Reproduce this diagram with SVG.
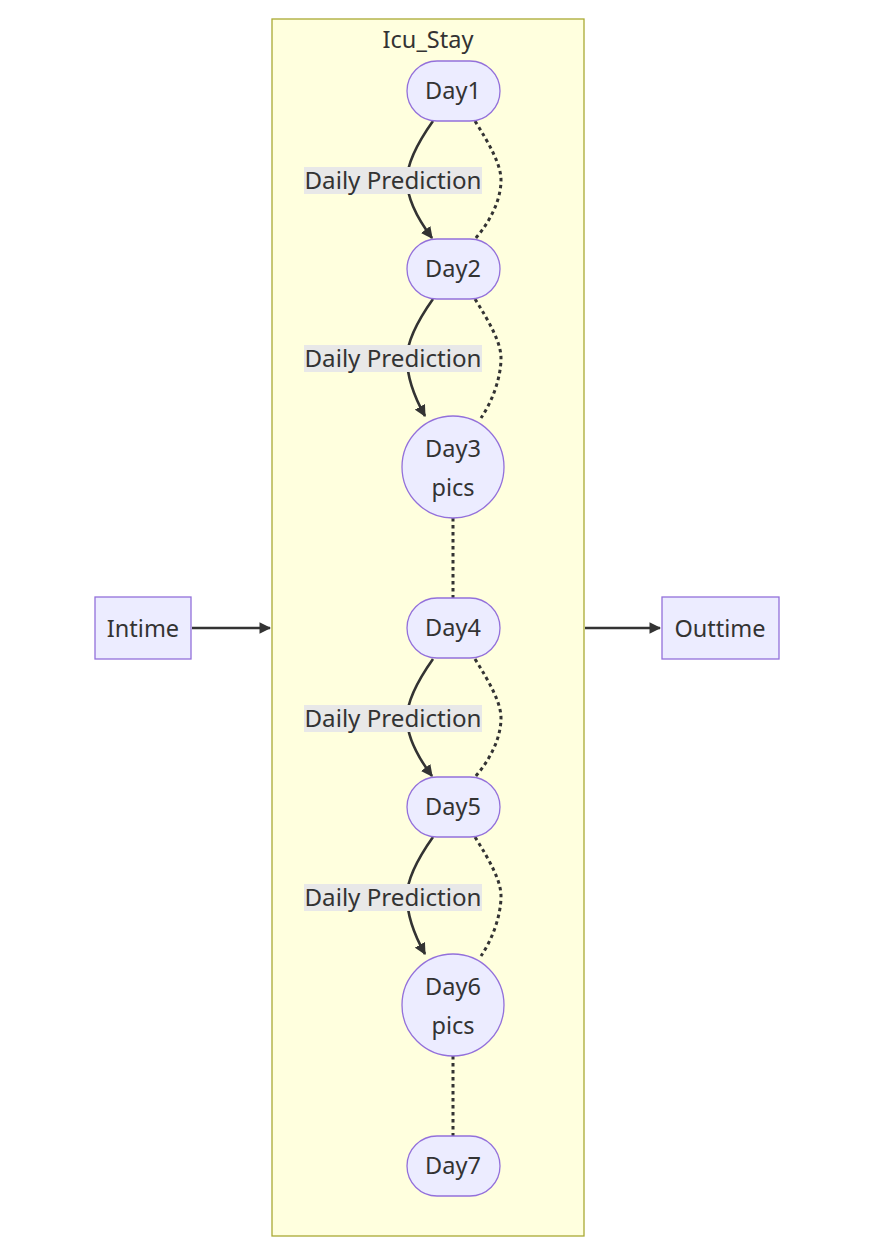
<svg xmlns="http://www.w3.org/2000/svg" width="877" height="1247" viewBox="0 0 877 1247">
<style>
text{font-family:"Noto Sans","DejaVu Sans",sans-serif;font-size:23.5px;fill:#333333;text-anchor:middle;dominant-baseline:central}
.node{fill:#ECECFF;stroke:#9370DB;stroke-width:1.3}
.edge{fill:none;stroke:#333333;stroke-width:2.6}
.dot{fill:none;stroke:#333333;stroke-width:3;stroke-dasharray:3.5 3.5}
.lbl{fill:#e8e8e8}
</style>
<defs>
<marker id="arr" viewBox="0 0 10 10" refX="9" refY="5" markerWidth="4.5" markerHeight="4.5" markerUnits="strokeWidth" orient="auto">
<path d="M0,0 L10,5 L0,10 z" fill="#333333"/>
</marker>
</defs>
<rect width="877" height="1247" fill="#ffffff"/>
<g id="cluster-Icu_Stay">
<rect x="272" y="19" width="312" height="1217" fill="#ffffde" stroke="#aaaa33" stroke-width="1.3"/>
<text x="428" y="39">Icu_Stay</text>
</g>
<g id="edges">
<path class="edge" d="M192,628 L270,628" marker-end="url(#arr)"/>
<path class="edge" d="M585,628 L660,628" marker-end="url(#arr)"/>
<path class="edge" d="M433,121 C416,145 407,165 407,180 C407,200 420,222 432,238" marker-end="url(#arr)"/>
<path class="dot" d="M475,121 C490,145 501,165 501,180 C501,200 490,222 475,239"/>
<path class="edge" d="M433,299 C416,323 407,343 407,358 C407,378 416,400 425,416" marker-end="url(#arr)"/>
<path class="dot" d="M475,299 C490,323 501,343 501,358 C501,378 492,402 481,418"/>
<path class="dot" d="M453,518 L453,598"/>
<path class="edge" d="M433,659 C416,683 407,703 407,718 C407,738 420,760 432,776" marker-end="url(#arr)"/>
<path class="dot" d="M475,659 C490,683 501,703 501,718 C501,738 490,760 475,777"/>
<path class="edge" d="M433,837 C416,861 407,881 407,896 C407,916 416,938 425,954" marker-end="url(#arr)"/>
<path class="dot" d="M475,837 C490,861 501,881 501,896 C501,916 492,940 481,956"/>
<path class="dot" d="M453,1056 L453,1136"/>
<g id="edge-labels">
<rect class="lbl" x="304" y="167" width="178" height="27"/><text x="393" y="180" textLength="177" lengthAdjust="spacingAndGlyphs">Daily Prediction</text>
<rect class="lbl" x="304" y="345" width="178" height="27"/><text x="393" y="358" textLength="177" lengthAdjust="spacingAndGlyphs">Daily Prediction</text>
<rect class="lbl" x="304" y="705" width="178" height="27"/><text x="393" y="718" textLength="177" lengthAdjust="spacingAndGlyphs">Daily Prediction</text>
<rect class="lbl" x="304" y="884" width="178" height="27"/><text x="393" y="897" textLength="177" lengthAdjust="spacingAndGlyphs">Daily Prediction</text>
</g>
</g>
<g id="Intime"><rect class="node" x="95" y="597" width="96" height="62"/><text x="143" y="628">Intime</text></g>
<g id="Outtime"><rect class="node" x="662" y="597" width="117" height="62"/><text x="720" y="628">Outtime</text></g>
<g id="Day1"><rect class="node" x="407" y="61" width="93" height="60" rx="30" ry="30"/><text x="453" y="90">Day1</text></g>
<g id="Day2"><rect class="node" x="407" y="239" width="93" height="60" rx="30" ry="30"/><text x="453" y="268">Day2</text></g>
<g id="Day3"><circle class="node" cx="453" cy="467" r="51"/><text x="453" y="448">Day3</text><text x="453" y="487">pics</text></g>
<g id="Day4"><rect class="node" x="407" y="598" width="93" height="60" rx="30" ry="30"/><text x="453" y="627">Day4</text></g>
<g id="Day5"><rect class="node" x="407" y="777" width="93" height="60" rx="30" ry="30"/><text x="453" y="806">Day5</text></g>
<g id="Day6"><circle class="node" cx="453" cy="1005" r="51"/><text x="453" y="986">Day6</text><text x="453" y="1025">pics</text></g>
<g id="Day7"><rect class="node" x="407" y="1136" width="93" height="60" rx="30" ry="30"/><text x="453" y="1165">Day7</text></g>
</svg>
